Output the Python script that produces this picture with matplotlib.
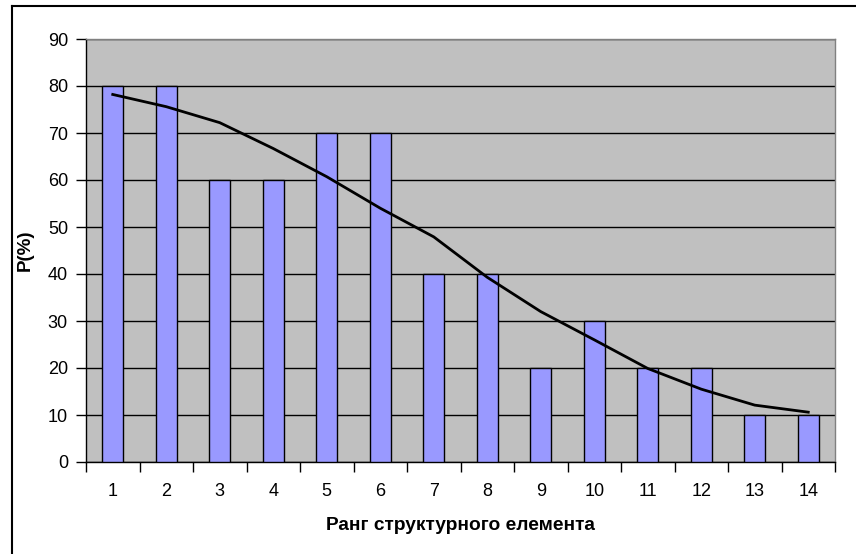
import numpy as np
import matplotlib
matplotlib.use('Agg')
from matplotlib import pyplot as plt
from matplotlib.lines import Line2D

# rank of structural element and P(%)
ranks = list(range(1, 15))
p_values = [80, 80, 60, 60, 70, 70, 40, 40, 20, 30, 20, 20, 10, 10]
# trendline
trend_values = [78.2, 75.6, 72.2, 66.7, 60.7, 54.0, 47.9, 39.3, 32.0, 26.0, 19.9, 15.5, 12.1, 10.6]
y_ticks = list(range(0, 100, 10))

plt.rcParams['font.family'] = ['Liberation Sans', 'DejaVu Sans']

fig = plt.figure(figsize=(8.56, 5.54), dpi=100)
W, H = 856, 554
ax = fig.add_axes([86 / W, 1 - 462 / H, (835 - 86) / W, (462 - 39) / H])

ax.set_facecolor('#C0C0C0')
ax.bar(ranks, p_values, width=0.4, color='#9999FF', edgecolor='black', linewidth=1.0, zorder=3)
ax.plot(ranks, trend_values, color='black', linewidth=2.0, zorder=4)

ax.set_xlim(0.5, 14.5)
ax.set_ylim(0, 90)
ax.set_yticks(y_ticks)
ax.yaxis.grid(True, color='black', linewidth=1.0, zorder=1)
ax.set_axisbelow(True)

# labels at category centers, tick marks between categories
ax.set_xticks(ranks)
ax.set_xticklabels([str(r) for r in ranks])
ax.set_xticks(np.arange(0.5, 15, 1.0), minor=True)
ax.tick_params(axis='x', which='major', length=0, pad=15, labelsize=13)
ax.tick_params(axis='x', which='minor', direction='out', length=7, width=1, color='black')
ax.tick_params(axis='y', direction='out', length=7, width=1, color='black', pad=6, labelsize=13)

for side in ['left', 'bottom']:
    ax.spines[side].set_color('black')
    ax.spines[side].set_linewidth(1.0)
for side in ['top', 'right']:
    ax.spines[side].set_color('#808080')
    ax.spines[side].set_linewidth(1.0)

ax.set_xlabel('Ранг структурного елемента', fontsize=13.8, fontweight='bold', labelpad=12)
ax.set_ylabel('P(%)', fontsize=13.5, fontweight='bold', labelpad=10)

# chart area border (only left and top visible)
fig.add_artist(Line2D([11.5 / W, 11.5 / W], [0, 1 - 6 / H], color='black', linewidth=1.5))
fig.add_artist(Line2D([11.5 / W, 1], [1 - 6 / H, 1 - 6 / H], color='black', linewidth=1.5))

fig.savefig('out.png', dpi=100, facecolor='white')
